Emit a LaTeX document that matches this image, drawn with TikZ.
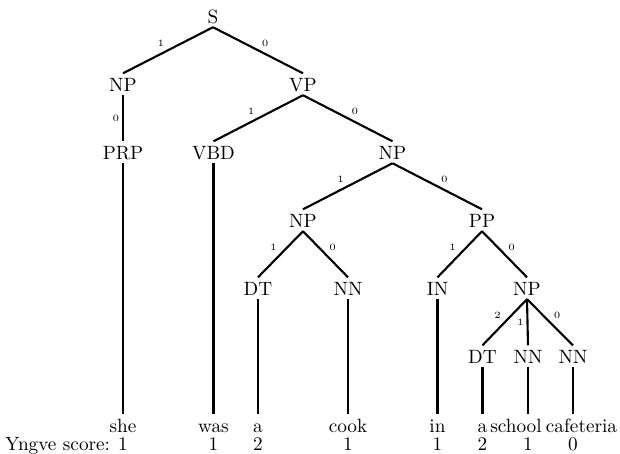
\documentclass[tikz,border=0pt]{standalone}
\usepackage{tikz}

\begin{document}
\begin{tikzpicture}[x=0.52pt,y=-0.52pt,
  cat/.style={anchor=base,inner sep=2pt,text height=7pt,text depth=0pt},
  br/.style={line width=1.1pt},
  num/.style={font=\tiny,inner sep=1.5pt}]
\useasboundingbox (0,0) rectangle (620,454);
% tree nodes
\node[cat] (s) at (213,23) {S};
\node[cat] (np1) at (123,91) {NP};
\node[cat] (vp) at (303,91) {VP};
\node[cat] (prp) at (123,159) {PRP};
\node[cat] (vbd) at (213.5,159) {VBD};
\node[cat] (np2) at (392.5,159) {NP};
\node[cat] (np3) at (303,227) {NP};
\node[cat] (pp) at (482,227) {PP};
\node[cat] (dt1) at (258,295) {DT};
\node[cat] (nn1) at (348,295) {NN};
\node[cat] (in) at (437.5,295) {IN};
\node[cat] (np4) at (527,295) {NP};
\node[cat] (dt2) at (482.5,363) {DT};
\node[cat] (nn2) at (528,363) {NN};
\node[cat] (nn3) at (573,363) {NN};
% words
\node[cat] (w1) at (123,432) {she};
\node[cat] (w2) at (213.5,432) {was};
\node[cat] (w3) at (258,432) {a};
\node[cat] (w4) at (348,432) {cook};
\node[cat] (w5) at (437.5,432) {in};
\node[cat] (w6) at (482.5,432) {a};
\node[cat] (w7) at (516,432) {school};
\node[cat] (w8) at (581.5,432) {cafeteria};
% scores
\node[anchor=base] (y1) at (123,450) {1};
\node[anchor=base] (y2) at (213.5,450) {1};
\node[anchor=base] (y3) at (258,450) {2};
\node[anchor=base] (y4) at (348,450) {1};
\node[anchor=base] (y5) at (437.5,450) {1};
\node[anchor=base] (y6) at (482.5,450) {2};
\node[anchor=base] (y7) at (528,450) {1};
\node[anchor=base] (y8) at (573,450) {0};
\node[anchor=base east,inner sep=0pt] (yngve) at ([xshift=-0.5pt]y1.base west) {Yngve score:};
% branches
\draw[br] (s.south) -- node[num,above left] {1} (np1.north);
\draw[br] (s.south) -- node[num,above right] {0} (vp.north);
\draw[br] (np1.south) -- node[num,left] {0} (prp.north);
\draw[br] (vp.south) -- node[num,above left] {1} (vbd.north);
\draw[br] (vp.south) -- node[num,above right] {0} (np2.north);
\draw[br] (np2.south) -- node[num,above left] {1} (np3.north);
\draw[br] (np2.south) -- node[num,above right] {0} (pp.north);
\draw[br] (np3.south) -- node[num,above left] {1} (dt1.north);
\draw[br] (np3.south) -- node[num,above right] {0} (nn1.north);
\draw[br] (pp.south) -- node[num,above left] {1} (in.north);
\draw[br] (pp.south) -- node[num,above right] {0} (np4.north);
\draw[br] (np4.south) -- node[num,above left] {2} (dt2.north);
\draw[br] (np4.south) -- node[num,left] {1} (nn2.north);
\draw[br] (np4.south) -- node[num,above right] {0} (nn3.north);
% leaves (straight down to the word row)
\draw[br] (prp.south) -- (prp.south |- w1.north);
\draw[br] (vbd.south) -- (vbd.south |- w2.north);
\draw[br] (dt1.south) -- (dt1.south |- w3.north);
\draw[br] (nn1.south) -- (nn1.south |- w4.north);
\draw[br] (in.south) -- (in.south |- w5.north);
\draw[br] (dt2.south) -- (dt2.south |- w6.north);
\draw[br] (nn2.south) -- (nn2.south |- w7.north);
\draw[br] (nn3.south) -- (nn3.south |- w8.north);
\end{tikzpicture}
\end{document}
